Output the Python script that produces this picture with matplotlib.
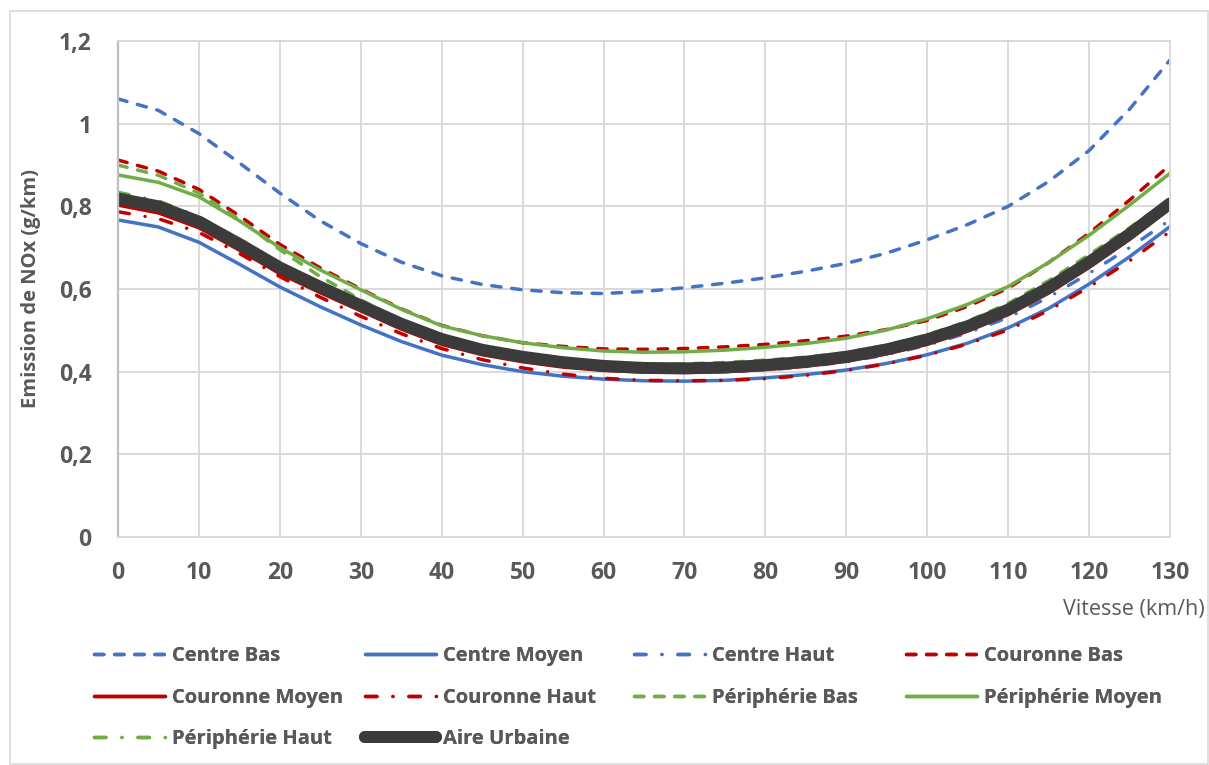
import matplotlib
matplotlib.use("Agg")
import matplotlib.pyplot as plt
from matplotlib.patches import Rectangle

# Vitesse (km/h)
vitesse = [0, 5, 10, 15, 20, 25, 30, 35, 40, 45, 50, 55, 60, 65,
           70, 75, 80, 85, 90, 95, 100, 105, 110, 115, 120, 125, 130]
x_ticks = [0, 10, 20, 30, 40, 50, 60, 70, 80, 90, 100, 110, 120, 130]

# Emission de NOx (g/km)
centre_bas = [1.060, 1.032, 0.976, 0.905, 0.832, 0.765, 0.710, 0.665, 0.632, 0.611, 0.598, 0.591, 0.589, 0.594,
              0.603, 0.614, 0.627, 0.643, 0.662, 0.687, 0.719, 0.756, 0.800, 0.860, 0.935, 1.035, 1.154]
centre_moyen = [0.767, 0.750, 0.713, 0.660, 0.605, 0.557, 0.513, 0.473, 0.440, 0.417, 0.400, 0.389, 0.382, 0.378,
                0.377, 0.379, 0.385, 0.393, 0.404, 0.420, 0.441, 0.469, 0.506, 0.553, 0.612, 0.678, 0.751]
centre_haut = [0.815, 0.796, 0.759, 0.705, 0.648, 0.601, 0.556, 0.512, 0.474, 0.448, 0.429, 0.415, 0.405, 0.400,
               0.399, 0.400, 0.404, 0.412, 0.424, 0.441, 0.464, 0.494, 0.531, 0.580, 0.638, 0.700, 0.767]
couronne_bas = [0.912, 0.885, 0.841, 0.777, 0.708, 0.651, 0.600, 0.552, 0.512, 0.487, 0.470, 0.461, 0.455, 0.454,
                0.456, 0.460, 0.466, 0.475, 0.486, 0.502, 0.524, 0.558, 0.602, 0.664, 0.735, 0.815, 0.900]
couronne_moyen = [0.803, 0.784, 0.748, 0.694, 0.637, 0.591, 0.547, 0.503, 0.466, 0.441, 0.424, 0.411, 0.403, 0.399,
                  0.398, 0.400, 0.405, 0.413, 0.425, 0.443, 0.466, 0.498, 0.538, 0.590, 0.652, 0.720, 0.795]
couronne_haut = [0.787, 0.770, 0.737, 0.686, 0.630, 0.580, 0.534, 0.492, 0.456, 0.429, 0.409, 0.394, 0.384, 0.379,
                 0.378, 0.379, 0.383, 0.391, 0.403, 0.419, 0.440, 0.467, 0.501, 0.548, 0.605, 0.668, 0.739]
peripherie_bas = [0.900, 0.875, 0.832, 0.768, 0.695, 0.630, 0.574, 0.523, 0.483, 0.459, 0.442, 0.429, 0.420, 0.417,
                  0.419, 0.422, 0.428, 0.435, 0.446, 0.464, 0.489, 0.522, 0.565, 0.620, 0.683, 0.748, 0.817]
peripherie_moyen = [0.876, 0.858, 0.823, 0.765, 0.700, 0.646, 0.598, 0.551, 0.511, 0.487, 0.470, 0.458, 0.450, 0.447,
                    0.448, 0.452, 0.459, 0.468, 0.481, 0.501, 0.528, 0.563, 0.606, 0.664, 0.730, 0.803, 0.880]
peripherie_haut = [0.834, 0.813, 0.775, 0.720, 0.662, 0.613, 0.566, 0.520, 0.482, 0.457, 0.439, 0.426, 0.416, 0.412,
                   0.411, 0.414, 0.420, 0.428, 0.440, 0.458, 0.482, 0.514, 0.555, 0.609, 0.672, 0.740, 0.812]
aire_urbaine = [0.819, 0.800, 0.763, 0.709, 0.652, 0.605, 0.560, 0.516, 0.479, 0.453, 0.436, 0.423, 0.414, 0.409,
                0.408, 0.410, 0.416, 0.424, 0.436, 0.454, 0.478, 0.510, 0.550, 0.603, 0.665, 0.733, 0.807]

y_ticks = [0, 0.2, 0.4, 0.6, 0.8, 1.0, 1.2]
y_tick_labels = ["0", "0,2", "0,4", "0,6", "0,8", "1", "1,2"]

BLUE = "#4472C4"
RED = "#C00000"
GREEN = "#70AD47"
DARK = "#3B3B3B"
TEXT = "#595959"
GRID = "#D9D9D9"

DASH = (2.7, 3.1)
DASHDOT = (3.3, 4.6, 0.01, 4.6)

series = [
    ("Centre Bas", centre_bas, BLUE, DASH),
    ("Centre Moyen", centre_moyen, BLUE, None),
    ("Centre Haut", centre_haut, BLUE, DASHDOT),
    ("Couronne Bas", couronne_bas, RED, DASH),
    ("Couronne Moyen", couronne_moyen, RED, None),
    ("Couronne Haut", couronne_haut, RED, DASHDOT),
    ("Périphérie Bas", peripherie_bas, GREEN, DASH),
    ("Périphérie Moyen", peripherie_moyen, GREEN, None),
    ("Périphérie Haut", peripherie_haut, GREEN, DASHDOT),
]

plt.rcParams["font.family"] = ["Open Sans", "DejaVu Sans"]

fig = plt.figure(figsize=(12.09, 7.65), dpi=100)
fig.patches.append(Rectangle((10 / 1209, 1 / 765), 1198 / 1209, 753 / 765,
                             transform=fig.transFigure, fill=False,
                             edgecolor=GRID, linewidth=1.2))
ax = fig.add_axes([118 / 1209, 1 - 537 / 765, 1052 / 1209, 496 / 765])

handles = []
for name, values, color, dash in series:
    if dash is None:
        (ln,) = ax.plot(vitesse, values, color=color, lw=2.5, label=name,
                        solid_capstyle="round", solid_joinstyle="round")
    else:
        (ln,) = ax.plot(vitesse, values, color=color, lw=2.5, label=name,
                        dashes=dash, dash_capstyle="round", dash_joinstyle="round")
    handles.append(ln)

(ln,) = ax.plot(vitesse, aire_urbaine, color=DARK, lw=8.6, label="Aire Urbaine",
                solid_capstyle="round", solid_joinstyle="round")
handles.append(ln)

ax.set_xlim(0, 130)
ax.set_ylim(0, 1.2)
ax.set_xticks(x_ticks)
ax.set_yticks(y_ticks)
ax.set_yticklabels(y_tick_labels)
ax.grid(True, color=GRID, lw=1.4)
ax.set_axisbelow(True)
ax.tick_params(length=0, colors=TEXT, labelsize=16.5)
ax.tick_params(axis="x", pad=17)
ax.tick_params(axis="y", pad=19)
for lab in ax.get_xticklabels() + ax.get_yticklabels():
    lab.set_fontweight("bold")
for side in ["top", "right", "bottom"]:
    ax.spines[side].set_color(GRID)
    ax.spines[side].set_linewidth(1.4)
ax.spines["left"].set_color("#BFBFBF")
ax.spines["left"].set_linewidth(1.6)

fig.text(31.5 / 1209, 1 - 288 / 765, "Emission de NOx (g/km)", rotation=90,
         ha="center", va="center", fontsize=14.5, fontweight="bold", color=TEXT)
fig.text(1205 / 1209, 1 - 610 / 765, "Vitesse (km/h)", ha="right", va="center",
         fontsize=15.5, color=TEXT)

# legend: Excel lays it out in 4 equal columns
col_x = [94, 365, 634, 906]
for c in range(4):
    col_handles = handles[c::4]
    leg = fig.legend(handles=col_handles, loc="upper left",
                     bbox_to_anchor=(col_x[c] / 1209, 1 - 646 / 765),
                     frameon=False, handlelength=3.55, handletextpad=0.3,
                     labelspacing=1.07, borderaxespad=0, borderpad=0,
                     prop={"size": 14.5, "weight": "bold"})
    for t in leg.get_texts():
        t.set_color(TEXT)
    fig.add_artist(leg)

fig.savefig("out.png", dpi=100)
